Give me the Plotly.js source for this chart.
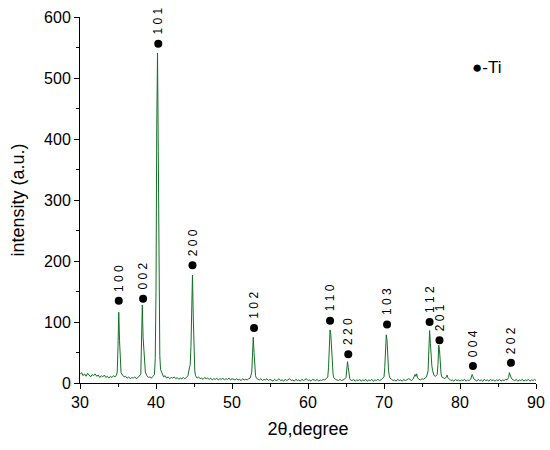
<!DOCTYPE html>
<html><head><meta charset="utf-8">
<script src="https://cdn.plot.ly/plotly-3.0.1.min.js"></script>
<style>html,body{margin:0;padding:0;background:#fff}</style>
</head><body>
<div id="chart" style="width:550px;height:450px"></div>
<script>
// XRD scan: [2theta, intensity]
const scan = [
[30.0,14],[30.2,17],[30.4,12],[30.6,15],[30.8,11],[31.0,16],[31.2,13],[31.4,10],[31.6,14],[31.8,12],
[32.0,15],[32.2,11],[32.4,13],[32.6,9],[32.8,12],[33.0,10],[33.2,13],[33.4,9],[33.6,11],[33.8,8],
[34.0,11],[34.2,9],[34.4,12],[34.6,10],[34.8,13],[34.9,18],[35.0,60],[35.1,116],[35.2,70],[35.3,28],
[35.4,17],[35.6,13],[35.8,10],[36.0,11],[36.2,8],[36.4,10],[36.6,7],[36.8,9],[37.0,8],[37.2,10],
[37.4,7],[37.6,9],[37.8,11],[38.0,15],[38.1,55],[38.2,128],[38.3,75],[38.4,48],[38.5,30],[38.6,18],
[38.8,12],[39.0,9],[39.2,10],[39.4,8],[39.6,11],[39.8,14],[39.9,40],[40.0,150],[40.1,420],[40.2,541],
[40.3,380],[40.4,130],[40.5,45],[40.6,22],[40.8,14],[41.0,10],[41.2,12],[41.4,8],[41.6,10],[41.8,7],
[42.0,9],[42.2,8],[42.4,10],[42.6,7],[42.8,9],[43.0,6],[43.2,8],[43.4,7],[43.6,9],[43.8,7],
[44.0,9],[44.2,12],[44.4,25],[44.5,30],[44.6,60],[44.7,140],[44.8,177],[44.9,110],[45.0,40],[45.1,20],
[45.2,12],[45.4,8],[45.6,10],[45.8,7],[46.0,8],[46.2,6],[46.4,9],[46.6,7],[46.8,8],[47.0,6],
[47.2,8],[47.4,5],[47.6,7],[47.8,6],[48.0,8],[48.2,5],[48.4,7],[48.6,6],[48.8,8],[49.0,5],
[49.2,7],[49.4,6],[49.6,8],[49.8,5],[50.0,7],[50.2,6],[50.4,5],[50.6,7],[50.8,5],[51.0,6],
[51.2,4],[51.4,7],[51.6,5],[51.8,6],[52.0,5],[52.2,7],[52.4,8],[52.6,18],[52.7,45],[52.8,75],
[52.9,50],[53.0,22],[53.1,12],[53.2,8],[53.4,6],[53.6,5],[53.8,7],[54.0,4],[54.2,6],[54.4,5],
[54.6,7],[54.8,4],[55.0,6],[55.2,5],[55.4,3],[55.6,6],[55.8,4],[56.0,5],[56.2,7],[56.4,4],
[56.6,5],[56.8,3],[57.0,6],[57.2,4],[57.4,5],[57.6,7],[57.8,4],[58.0,5],[58.2,3],[58.4,6],
[58.6,4],[58.8,5],[59.0,3],[59.2,6],[59.4,4],[59.6,5],[59.8,7],[60.0,4],[60.2,5],[60.4,3],
[60.6,6],[60.8,5],[61.0,4],[61.2,6],[61.4,3],[61.6,5],[61.8,4],[62.0,6],[62.2,5],[62.4,7],
[62.6,10],[62.7,25],[62.8,60],[62.9,87],[63.0,80],[63.1,50],[63.2,25],[63.3,14],[63.4,9],[63.6,6],
[63.8,5],[64.0,4],[64.2,6],[64.4,4],[64.6,5],[64.8,6],[65.0,9],[65.1,22],[65.2,35],[65.3,25],
[65.4,12],[65.5,7],[65.6,5],[65.8,4],[66.0,6],[66.2,3],[66.4,5],[66.6,4],[66.8,6],[67.0,3],
[67.2,5],[67.4,4],[67.6,6],[67.8,3],[68.0,5],[68.2,4],[68.4,6],[68.6,3],[68.8,5],[69.0,4],
[69.2,6],[69.4,4],[69.6,5],[69.8,7],[70.0,10],[70.1,25],[70.2,55],[70.3,79],[70.4,70],[70.5,40],
[70.6,20],[70.7,12],[70.8,8],[71.0,6],[71.2,4],[71.4,5],[71.6,3],[71.8,6],[72.0,4],[72.2,5],
[72.4,3],[72.6,6],[72.8,4],[73.0,5],[73.2,7],[73.4,6],[73.6,4],[73.8,6],[74.0,10],[74.1,14],
[74.2,11],[74.3,15],[74.4,9],[74.6,6],[74.8,5],[75.0,7],[75.2,6],[75.4,8],[75.6,10],[75.8,20],
[75.9,55],[76.0,86],[76.1,65],[76.2,40],[76.3,28],[76.4,20],[76.5,16],[76.6,12],[76.8,11],[77.0,14],
[77.1,30],[77.2,62],[77.3,55],[77.4,30],[77.5,16],[77.6,10],[77.8,8],[78.0,7],[78.2,10],[78.3,13],
[78.4,9],[78.6,6],[78.8,4],[79.0,5],[79.2,3],[79.4,6],[79.6,4],[79.8,5],[80.0,3],[80.2,5],
[80.4,4],[80.6,6],[80.8,3],[81.0,5],[81.2,4],[81.4,6],[81.5,9],[81.6,14],[81.7,11],[81.8,7],
[82.0,5],[82.2,3],[82.4,6],[82.6,4],[82.8,5],[83.0,3],[83.2,6],[83.4,4],[83.6,5],[83.8,3],
[84.0,6],[84.2,4],[84.4,5],[84.6,3],[84.8,5],[85.0,4],[85.2,6],[85.4,3],[85.6,5],[85.8,4],
[86.0,6],[86.2,5],[86.4,9],[86.5,17],[86.6,13],[86.7,10],[86.8,7],[87.0,5],[87.2,4],[87.4,6],
[87.6,3],[87.8,5],[88.0,4],[88.2,6],[88.4,3],[88.6,5],[88.8,4],[89.0,6],[89.2,3],[89.4,5],
[89.6,4],[89.8,6],[90.0,4]
];
const twoTheta = scan.map(p => p[0]);
const intensity = scan.map(p => p[1]);

// Ti peak markers
const peakLabels = ['1 0 0','0 0 2','1 0 1','2 0 0','1 0 2','1 1 0','2 2 0','1 0 3','1 1 2','2 0 1','0 0 4','2 0 2'];
const peakX = [35.1, 38.3, 40.3, 44.8, 52.9, 62.9, 65.3, 70.4, 76.0, 77.3, 81.7, 86.7];
const peakY = [135, 138, 556, 193, 90, 102, 47, 96, 100, 70, 28, 33];

const FONT = 'Liberation Sans, Arial, sans-serif';

const traces = [
  {x: twoTheta, y: intensity, type: 'scatter', mode: 'lines',
   line: {color: '#137025', width: 1}, hoverinfo: 'skip', showlegend: false},
  {x: peakX, y: peakY, type: 'scatter', mode: 'markers',
   marker: {color: '#000', size: 8}, showlegend: false}
];

const annotations = peakLabels.map((t, i) => ({
  x: peakX[i], y: peakY[i], xref: 'x', yref: 'y', text: t, showarrow: false,
  textangle: -90, yanchor: 'bottom', xanchor: 'center', yshift: 7,
  font: {family: FONT, size: 12, color: '#000'}
}));
annotations.push({
  xref: 'paper', yref: 'paper', x: 0.856, y: 0.861, xanchor: 'left', yanchor: 'middle',
  text: '●-Ti', showarrow: false,
  font: {family: FONT, size: 17, color: '#000'}
});

const axisFont = {family: FONT, size: 16, color: '#000'};
const layout = {
  width: 550, height: 450,
  margin: {l: 80, r: 14, t: 17, b: 67},
  paper_bgcolor: '#fff', plot_bgcolor: '#fff',
  showlegend: false,
  xaxis: {
    range: [30, 90], dtick: 10, tick0: 30, showgrid: false, zeroline: false,
    showline: true, linecolor: '#000', linewidth: 1,
    ticks: 'outside', ticklen: 5, tickcolor: '#000', tickfont: axisFont,
    minor: {dtick: 5, ticks: 'outside', ticklen: 3, tickcolor: '#000', showgrid: false},
    title: {text: '2θ,degree', font: {family: FONT, size: 18, color: '#000'}, standoff: 12}
  },
  yaxis: {
    range: [0, 600], dtick: 100, showgrid: false, zeroline: false,
    showline: true, linecolor: '#000', linewidth: 1,
    ticks: 'outside', ticklen: 5, tickcolor: '#000', tickfont: axisFont,
    minor: {dtick: 50, ticks: 'outside', ticklen: 3, tickcolor: '#000', showgrid: false},
    title: {text: 'intensity (a.u.)', font: {family: FONT, size: 18, color: '#000'}, standoff: 14}
  },
  annotations: annotations
};

Plotly.newPlot('chart', traces, layout, {displayModeBar: false, staticPlot: true});
</script>
</body></html>
